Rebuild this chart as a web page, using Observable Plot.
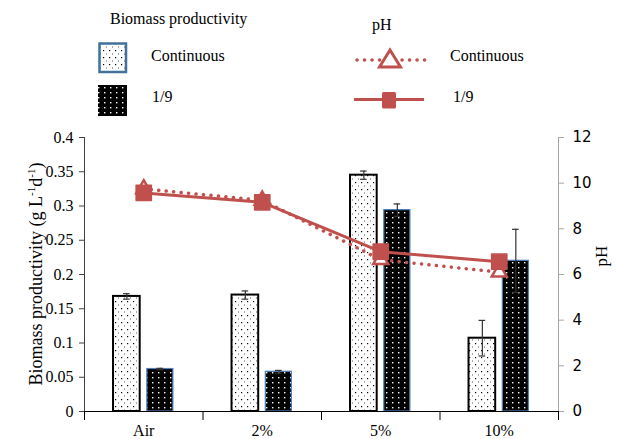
<!DOCTYPE html>
<html>
<head>
<meta charset="utf-8">
<script src="https://cdn.jsdelivr.net/npm/d3@7"></script>
<script src="https://cdn.jsdelivr.net/npm/@observablehq/plot@0.6"></script>
<style>
  html, body { margin: 0; padding: 0; background: #fff; }
  #wrap { position: relative; width: 623px; height: 439px; overflow: hidden; }
  #legend, #chart { display: block; line-height: 0; }
  #legend svg, #chart svg { display: block; }
</style>
</head>
<body>
<div id="wrap">
  <div id="legend"></div>
  <div id="chart"></div>
</div>
<script>
// ---- data ----
const categories = ["Air", "2%", "5%", "10%"];
const bioContinuous = [0.168, 0.170, 0.345, 0.107];
const bioContinuousErr = [0.004, 0.006, 0.006, 0.026];
const bio19 = [0.062, 0.058, 0.294, 0.220];
const bio19Err = [0.001, 0.002, 0.009, 0.046];
const phContinuous = [9.75, 9.25, 6.65, 6.1];
const ph19 = [9.57, 9.16, 7.0, 6.56];
const leftTicks = [0, 0.05, 0.1, 0.15, 0.2, 0.25, 0.3, 0.35, 0.4];
const rightTicks = [0, 2, 4, 6, 8, 10, 12];
const seriesNames = ["Continuous", "1/9"];
const legendTitles = ["Biomass productivity", "pH"];
const yTitleMain = "Biomass productivity (g L";
const yTitleRight = "pH";

const RED = "#c0504d";
const SERIF = "Liberation Serif, 'Times New Roman', serif";
const phToY = v => v / 30; // pH 0..12 -> 0..0.4

// ---- legend (above the chart) ----
const lg = d3.create("svg").attr("width", 623).attr("height", 125)
  .attr("font-family", SERIF).attr("font-size", 16);
const defs = lg.append("defs");
const pl = defs.append("pattern").attr("id", "dotsLight").attr("patternUnits", "userSpaceOnUse")
  .attr("width", 6).attr("height", 7);
pl.append("rect").attr("width", 6).attr("height", 7).attr("fill", "#fff");
pl.append("rect").attr("x", 1).attr("y", 1).attr("width", 1.2).attr("height", 1.2).attr("fill", "#000");
pl.append("rect").attr("x", 4).attr("y", 4.5).attr("width", 1).attr("height", 1).attr("fill", "#555");
const pd = defs.append("pattern").attr("id", "dotsDark").attr("patternUnits", "userSpaceOnUse")
  .attr("width", 6).attr("height", 5);
pd.append("rect").attr("width", 6).attr("height", 5).attr("fill", "#000");
pd.append("rect").attr("x", 2).attr("y", 2).attr("width", 1.4).attr("height", 1.4).attr("fill", "#fff");

lg.append("text").attr("x", 110).attr("y", 24).text(legendTitles[0]);
lg.append("text").attr("x", 372).attr("y", 30).text(legendTitles[1]);
lg.append("rect").attr("x", 99.5).attr("y", 43.5).attr("width", 26.5).attr("height", 28.5)
  .attr("fill", "url(#dotsLight)").attr("stroke", "#41719c").attr("stroke-width", 2.5);
lg.append("rect").attr("x", 98).attr("y", 85).attr("width", 29).attr("height", 31)
  .attr("fill", "url(#dotsDark)");
lg.append("text").attr("x", 151).attr("y", 61).text(seriesNames[0]);
lg.append("text").attr("x", 152).attr("y", 102).text(seriesNames[1]);
// pH legend
lg.append("line").attr("x1", 357).attr("x2", 427).attr("y1", 60).attr("y2", 60)
  .attr("stroke", RED).attr("stroke-width", 3.5).attr("stroke-dasharray", "0.1 7.4").attr("stroke-linecap", "round");
lg.append("path").attr("d", "M390,50 L400.5,67 L379.5,67 Z")
  .attr("fill", "#fff").attr("stroke", RED).attr("stroke-width", 3).attr("stroke-linejoin", "miter");
lg.append("line").attr("x1", 354).attr("x2", 424).attr("y1", 99.5).attr("y2", 99.5)
  .attr("stroke", RED).attr("stroke-width", 3);
lg.append("rect").attr("x", 382).attr("y", 92).attr("width", 14).attr("height", 16.5).attr("rx", 1.5)
  .attr("fill", RED);
lg.append("text").attr("x", 450).attr("y", 61).text(seriesNames[0]);
lg.append("text").attr("x", 453).attr("y", 102).text(seriesNames[1]);
document.getElementById("legend").append(lg.node());

// ---- tables built from the arrays ----
const barsC = categories.map((c, i) => ({cat: c, x1: i + 0.245, x2: i + 0.47, v: bioContinuous[i], e: bioContinuousErr[i]}));
const bars9 = categories.map((c, i) => ({cat: c, x1: i + 0.53, x2: i + 0.75, v: bio19[i], e: bio19Err[i]}));
const allBars = barsC.concat(bars9).map(d => ({...d, xm: (d.x1 + d.x2) / 2}));
const phC = categories.map((c, i) => ({x: i + 0.5, y: phToY(phContinuous[i])}));
const ph9 = categories.map((c, i) => ({x: i + 0.5, y: phToY(ph19[i])}));
const capW = 0.028;

const chart = Plot.plot({
  width: 623,
  height: 314,
  marginTop: 12,
  marginBottom: 28,
  marginLeft: 84,
  marginRight: 65,
  x: {domain: [0, 4], axis: null},
  y: {domain: [0, 0.4], axis: null},
  style: {fontFamily: SERIF, fontSize: "16px", color: "#000", background: "#fff", overflow: "visible"},
  marks: [
    // bars
    Plot.rectY(barsC, {x1: "x1", x2: "x2", y1: 0, y2: "v", fill: "url(#dotsLight)", stroke: "#000", strokeWidth: 2, inset: 0}),
    Plot.rectY(bars9, {x1: "x1", x2: "x2", y1: 0, y2: "v", fill: "url(#dotsDark)", stroke: "#4f81bd", strokeWidth: 1.2, inset: 0}),
    // error bars
    Plot.ruleX(allBars, {x: "xm", y1: d => d.v - d.e, y2: d => d.v + d.e, stroke: "#333", strokeWidth: 1.2}),
    Plot.ruleY(allBars, {x1: d => d.xm - capW, x2: d => d.xm + capW, y: d => d.v + d.e, stroke: "#333", strokeWidth: 1.2}),
    Plot.ruleY(allBars, {x1: d => d.xm - capW, x2: d => d.xm + capW, y: d => d.v - d.e, stroke: "#333", strokeWidth: 1.2}),
    // axes lines
    Plot.ruleX([0], {stroke: "#404040"}),
    Plot.ruleX([4], {stroke: "#a6a6a6"}),
    Plot.ruleY([0], {stroke: "#000"}),
    Plot.axisY({anchor: "left", ticks: leftTicks, tickSize: 5, tickPadding: 6, tickFormat: d => String(d),
      fontSize: 16, fontFamily: SERIF, stroke: "#404040", fill: "#000", label: null}),
    Plot.axisY({anchor: "right", ticks: rightTicks.map(phToY), tickSize: 5, tickPadding: 9,
      tickFormat: d => String(Math.round(d * 30)), fontSize: 15, fontFamily: "DejaVu Sans",
      stroke: "#a6a6a6", fill: "#000", label: null}),
    Plot.axisX({ticks: [0, 1, 2, 3, 4], tickSize: 9, tickFormat: () => "", stroke: "#000", label: null}),
    Plot.axisX({ticks: categories.map((c, i) => i + 0.5), tickSize: 0, tickPadding: 13,
      tickFormat: d => categories[Math.floor(d)], fontSize: 16, fontFamily: SERIF, fill: "#000", label: null}),
    // pH lines
    Plot.line(phC, {x: "x", y: "y", stroke: RED, strokeWidth: 3.5, strokeDasharray: "0.1 7.4", strokeLinecap: "round"}),
    Plot.dot(phC, {x: "x", y: "y", symbol: "triangle", r: 5.6, fill: "#fff", stroke: RED, strokeWidth: 2.5}),
    Plot.line(ph9, {x: "x", y: "y", stroke: RED, strokeWidth: 3}),
    Plot.dot(ph9, {x: "x", y: "y", symbol: "square", r: 8.6, fill: RED, stroke: RED, strokeWidth: 1.5, strokeLinejoin: "round"})
  ]
});

// axis titles
const svg = d3.select(chart);
const yt = svg.append("text")
  .attr("transform", "translate(42," + (274 - 125) + ") rotate(-90)")
  .attr("text-anchor", "middle").attr("font-family", SERIF).attr("font-size", 18).attr("fill", "#000");
yt.append("tspan").text(yTitleMain);
yt.append("tspan").attr("font-size", 11).attr("dy", -7).text("-1");
yt.append("tspan").attr("dy", 7).text("d");
yt.append("tspan").attr("font-size", 11).attr("dy", -7).text("-1");
yt.append("tspan").attr("dy", 7).text(")");
svg.append("text")
  .attr("transform", "translate(607," + (256 - 125) + ") rotate(-90)")
  .attr("text-anchor", "middle").attr("font-family", SERIF).attr("font-size", 17).attr("fill", "#000")
  .text(yTitleRight);

document.getElementById("chart").append(chart);
</script>
</body>
</html>
